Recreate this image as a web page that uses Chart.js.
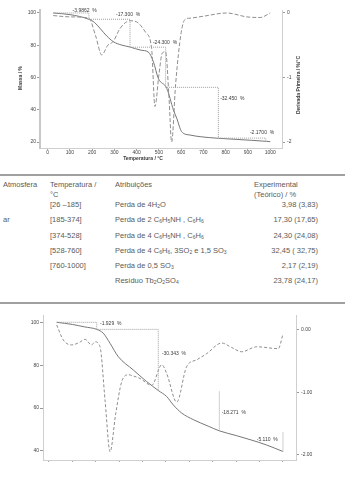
<!DOCTYPE html>
<html>
<head>
<meta charset="utf-8">
<script src="https://cdn.jsdelivr.net/npm/chart.js@4"></script>
<style>
  body { margin: 0; width: 352px; height: 480px; background: #fff; position: relative; overflow: hidden;
         font-family: "Liberation Sans", Arial, sans-serif; }
  canvas { position: absolute; left: 0; }
  #topChart { top: 0; }
  #botChart { top: 300px; }
  .t { position: absolute; font-size: 7.5px; line-height: 9px; color: #5a5a5a; white-space: nowrap; }
  .r { right: 34px; text-align: right; }
  sub { font-size: 5px; vertical-align: -1px; line-height: 0; }
  .rule { position: absolute; left: 0; width: 345px; height: 2px; background: #a0a0a0; }
</style>
</head>
<body>
<canvas id="topChart" width="352" height="165"></canvas>

<div class="rule" style="top:174px"></div>
<div class="t" style="left:3px;top:180px">Atmosfera</div>
<div class="t" style="left:50px;top:180px">Temperatura /</div>
<div class="t" style="left:50px;top:189.5px">°C</div>
<div class="t" style="left:115px;top:180px">Atribuições</div>
<div class="t" style="left:254px;top:180px">Experimental</div>
<div class="t" style="left:254px;top:189.5px">(Teórico) / %</div>

<div class="t" style="left:3px;top:214.8px">ar</div>

<div class="t" style="left:50px;top:199.5px">[26 –185]</div>
<div class="t" style="left:115px;top:199.5px">Perda de 4H<sub>2</sub>O</div>
<div class="t r" style="top:199.5px">3,98 (3,83)</div>

<div class="t" style="left:50px;top:214.8px">[185-374]</div>
<div class="t" style="left:115px;top:214.8px">Perda de 2 C<sub>6</sub>H<sub>5</sub>NH , C<sub>6</sub>H<sub>6</sub></div>
<div class="t r" style="top:214.8px">17,30 (17,65)</div>

<div class="t" style="left:50px;top:230.5px">[374-528]</div>
<div class="t" style="left:115px;top:230.5px">Perda de 4 C<sub>6</sub>H<sub>5</sub>NH , C<sub>6</sub>H<sub>6</sub></div>
<div class="t r" style="top:230.5px">24,30 (24,08)</div>

<div class="t" style="left:50px;top:245.5px">[528-760]</div>
<div class="t" style="left:115px;top:245.5px">Perda de 4 C<sub>6</sub>H<sub>6</sub>, 3SO<sub>2</sub> e 1,5 SO<sub>3</sub></div>
<div class="t r" style="top:245.5px">32,45 ( 32,75)</div>

<div class="t" style="left:50px;top:260.5px">[760-1000]</div>
<div class="t" style="left:115px;top:260.5px">Perda de 0,5 SO<sub>3</sub></div>
<div class="t r" style="top:260.5px">2,17 (2,19)</div>

<div class="t" style="left:115px;top:276.2px">Resíduo Tb<sub>2</sub>O<sub>2</sub>SO<sub>4</sub></div>
<div class="t r" style="top:276.2px">23,78 (24,17)</div>
<div class="rule" style="top:302px"></div>

<canvas id="botChart" width="352" height="180"></canvas>

<script>
// ---- gráfico de cima: TG (massa) e DTG
const tempTicks = [0, 100, 200, 300, 400, 500, 600, 700, 800, 900, 1000];

const topTgTemps = [25, 100, 185, 210, 235, 265, 295, 330, 370, 420, 452, 475, 497, 535, 565, 580, 602, 640, 685, 767, 850, 984, 1000];
const topTgMass = [100, 99, 96.1, 94.2, 90.5, 85.8, 82.2, 80.2, 78.9, 76.9, 75.8, 69.8, 59.5, 53.3, 39.9, 34.7, 26.4, 24.3, 23.3, 22.3, 21.6, 20.4, 20.2];

const topDtgTemps = [25, 100, 185, 215, 243, 270, 295, 325, 370, 405, 440, 467, 482, 500, 515, 530, 545, 557, 575, 600, 617, 640, 700, 805, 895, 955, 1000];
const topDtgVals = [-0.04, -0.06, -0.08, -0.35, -0.65, -0.5, -0.44, -0.24, -0.12, -0.15, -0.3, -0.55, -1.45, -0.95, -0.62, -0.6, -1.3, -2.0, -1.1, -0.3, -0.1, -0.08, -0.05, 0.0, -0.06, -0.07, 0.0];

const topStepTemps = [25, 185, 185, 370, 370, 530, 530, 767, 767, 980, 980];
const topStepMass = [100, 100, 96.1, 96.1, 78.8, 78.8, 53.9, 53.9, 22.4, 22.4, 20.3];

const topNoteText = ['-3.9862  %', '-17.300  %', '-24.300  %', '-32.450  %', '-2.1700  %'];
const topNoteTemps = [112, 307, 473, 775, 909];
const topNoteMass = [101.4, 98.8, 81.8, 46.7, 25.8];

const topMassTicks = [100, 80, 60, 40, 20];
const topDtgTicks = [0, -1, -2];

// ---- gráfico de baixo
const botTgTemps = [33, 100, 150, 204, 232, 261, 296, 360, 417, 467, 503, 531, 567, 617, 680, 728, 800, 859, 930, 999];
const botTgMass = [100, 99.0, 97.9, 96.7, 94.9, 90.2, 84.0, 77.8, 72.4, 68.2, 65.4, 61.5, 57.7, 54.6, 51.6, 49.4, 47.2, 45.3, 42.8, 39.8];

const botDtgTemps = [33, 61, 97, 130, 154, 182, 197, 218, 240, 261, 285, 311, 340, 360, 389, 439, 482, 503, 546, 588, 631, 674, 738, 780, 823, 888, 980, 999];
const botDtgVals = [0.08, -0.16, -0.24, -0.2, -0.15, -0.24, -0.19, -0.27, -1.15, -1.96, -1.35, -0.83, -0.72, -0.74, -0.78, -0.89, -0.56, -0.70, -1.16, -0.59, -0.48, -0.38, -0.21, -0.28, -0.35, -0.27, -0.30, -0.08];

const botStepTemps = [33, 204, 204, 467, 467, null, 728, 728, null, 1000, 1000];
const botStepMass = [100, 100, 96.7, 96.7, 68.2, null, 67.7, 49.4, null, 48.6, 39.8];

const botNoteText = ['-1.929  %', '-30.343  %', '-18.271  %', '-5.110  %'];
const botNoteTemps = [218, 482, 738, 888];
const botNoteMass = [99.2, 85.5, 57.9, 45.5];

const botMassTicks = [100, 80, 60, 40];
const botDtgTicks = [0, -1, -2];

const FONT = '"Liberation Sans", Arial, sans-serif';

function pts(xs, ys) {
  return xs.map((x, i) => ({ x: x === null ? NaN : x, y: ys[i] }));
}

function fixTicks(list) {
  return (s) => { s.ticks = list.map((v) => ({ value: v })); };
}

// rótulos das etapas e títulos dos eixos
function notesPlugin(texts, temps, vals, titles) {
  return {
    id: 'notes',
    afterDatasetsDraw(chart) {
      const { ctx, scales } = chart;
      ctx.save();
      ctx.fillStyle = '#3a3a3a';
      ctx.textBaseline = 'middle';
      ctx.font = '5px ' + FONT;
      texts.forEach((t, i) => {
        ctx.fillText(t, scales.x.getPixelForValue(temps[i]), scales.y.getPixelForValue(vals[i]));
      });
      ctx.font = 'bold 5px ' + FONT;
      ctx.textAlign = 'center';
      titles.forEach(([text, x, y, rot]) => {
        ctx.save();
        ctx.translate(x, y);
        ctx.rotate(rot);
        ctx.fillText(text, 0, 0);
        ctx.restore();
      });
      ctx.restore();
    }
  };
}

function curve(data, axis, color, dash, mono) {
  return {
    data, yAxisID: axis, borderColor: color, borderWidth: 1, borderDash: dash,
    pointRadius: 0, fill: false, spanGaps: false,
    tension: mono ? 0.4 : 0, cubicInterpolationMode: mono ? 'monotone' : 'default'
  };
}

function buildChart(id, cfg) {
  return new Chart(document.getElementById(id), {
    type: 'line',
    data: {
      datasets: [
        curve(pts(cfg.stepT, cfg.stepM), 'y', '#a0a0a0', [1, 1], false),
        curve(pts(cfg.dtgT, cfg.dtgV), 'y2', '#8e8e8e', cfg.dtgDash, true),
        curve(pts(cfg.tgT, cfg.tgM), 'y', '#767676', [], true)
      ]
    },
    options: {
      responsive: false,
      animation: false,
      layout: { padding: { top: cfg.top, left: 0, right: 0, bottom: 0 } },
      plugins: { legend: { display: false }, tooltip: { enabled: false } },
      scales: {
        x: {
          type: 'linear', min: cfg.xMin, max: cfg.xMax,
          afterBuildTicks: fixTicks(tempTicks),
          afterFit: (s) => { s.height = cfg.xH; },
          grid: { drawOnChartArea: false, tickLength: 2, color: '#aaa' },
          border: { color: '#cfcfcf', dash: [1, 2] },
          ticks: { display: cfg.xLabels, font: { size: 5, family: FONT }, color: '#444', padding: 0,
                   maxRotation: 0, autoSkip: false, callback: (v) => String(v) }
        },
        y: {
          position: 'left', min: cfg.yMin, max: cfg.yMax,
          afterBuildTicks: fixTicks(cfg.massTicks),
          afterFit: (s) => { s.width = cfg.leftW; },
          grid: { drawOnChartArea: false, tickLength: 3, color: '#999' },
          border: { color: cfg.leftColor, width: cfg.leftWidth },
          ticks: { font: { size: 5, family: FONT }, color: '#444', padding: 1 }
        },
        y2: {
          position: 'right', min: cfg.y2Min, max: cfg.y2Max,
          afterBuildTicks: fixTicks(cfg.dtgTicks),
          afterFit: (s) => { s.width = cfg.rightW; },
          grid: { drawOnChartArea: false, tickLength: 3, color: '#999' },
          border: { color: '#cfcfcf' },
          ticks: { font: { size: 5, family: FONT }, color: '#444', padding: 2, callback: cfg.dtgFmt }
        }
      }
    },
    plugins: [notesPlugin(cfg.noteText, cfg.noteT, cfg.noteM, cfg.titles)]
  });
}

buildChart('topChart', {
  tgT: topTgTemps, tgM: topTgMass, dtgT: topDtgTemps, dtgV: topDtgVals,
  stepT: topStepTemps, stepM: topStepMass,
  noteText: topNoteText, noteT: topNoteTemps, noteM: topNoteMass,
  massTicks: topMassTicks, dtgTicks: topDtgTicks, dtgFmt: (v) => String(v),
  dtgDash: [4, 2],
  top: 10, xH: 17, leftW: 40, rightW: 70, xLabels: true,
  xMin: -34.6, xMax: 1053, yMin: 16.28, yMax: 101.86, y2Min: -2.093, y2Max: 0.0465,
  leftColor: '#c8c8c8', leftWidth: 2,
  titles: [
    ['Massa / %', 20.5, 78, -Math.PI / 2],
    ['Temperatura / °C', 143, 159, 0],
    ['Derivada Primeira / %/°C', 299, 85, -Math.PI / 2]
  ]
});

buildChart('botChart', {
  tgT: botTgTemps, tgM: botTgMass, dtgT: botDtgTemps, dtgV: botDtgVals,
  stepT: botStepTemps, stepM: botStepMass,
  noteText: botNoteText, noteT: botNoteTemps, noteM: botNoteMass,
  massTicks: botMassTicks, dtgTicks: botDtgTicks, dtgFmt: (v) => v.toFixed(2),
  dtgDash: [3, 2],
  top: 15, xH: 20, leftW: 43, rightW: 56, xLabels: false,
  xMin: -25.6, xMax: 1055.6, yMin: 35.8, yMax: 103.4, y2Min: -2.0917, y2Max: 0.2413,
  leftColor: '#cfcfcf', leftWidth: 1,
  titles: []
});
</script>
</body>
</html>
